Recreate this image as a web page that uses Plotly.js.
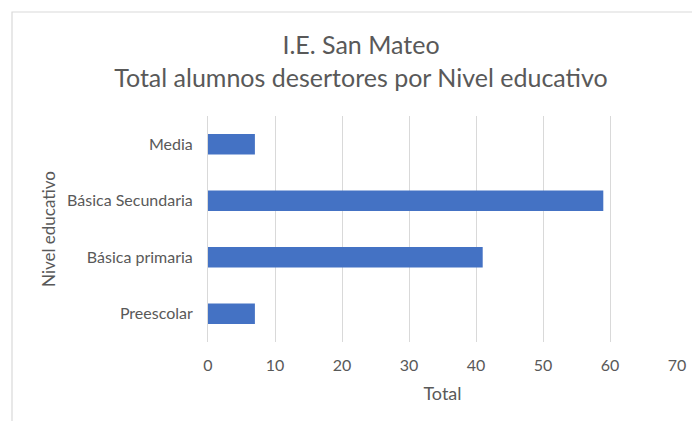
<!DOCTYPE html>
<html>
<head>
<meta charset="utf-8">
<script src="https://cdn.plot.ly/plotly-3.0.1.min.js"></script>
<style>html,body{margin:0;padding:0;background:#fff;}#chart{width:692px;height:421px;}</style>
</head>
<body>
<div id="chart"></div>
<script>
const categories = ['Preescolar', 'Básica primaria', 'Básica Secundaria', 'Media'];
const totals = [7, 41, 59, 7];
const xTicks = [0, 10, 20, 30, 40, 50, 60, 70];
const chartTitle = 'I.E. San Mateo<br>Total alumnos desertores por Nivel educativo';
const xTitle = 'Total';
const yTitle = 'Nivel educativo';

const textColor = '#595959';
const gridColor = '#D9D9D9';
const fontFamily = 'Lato, "Open Sans", sans-serif';

const L = 208, R = 15, T = 116, B = 79, W = 692, H = 421;
const pw = W - L - R, ph = H - T - B;
const fx = v => (v - L) / pw;
const fy = v => (H - B - v) / ph;

const data = [{
  type: 'bar',
  orientation: 'h',
  y: categories,
  x: totals,
  marker: {color: '#4472C4'},
  hoverinfo: 'x+y'
}];

const layout = {
  width: W, height: H,
  margin: {l: L, r: R, t: T, b: B, pad: 0},
  paper_bgcolor: '#ffffff',
  plot_bgcolor: '#ffffff',
  showlegend: false,
  bargap: 0.64,
  font: {family: fontFamily, color: textColor, size: 16},
  title: {
    text: chartTitle,
    font: {family: fontFamily, size: 25, color: textColor},
    x: 361 / W, xanchor: 'center',
    y: 1 - 54 / H, yanchor: 'top', yref: 'container'
  },
  xaxis: {
    range: [0, 70],
    tickvals: xTicks,
    ticktext: xTicks.map(String),
    showgrid: true, gridcolor: gridColor, gridwidth: 1,
    zeroline: false, showline: false,
    ticks: '', ticklabelstandoff: 12,
    tickfont: {size: 16, color: textColor},
    title: {text: xTitle, font: {size: 18, color: textColor}, standoff: 14},
    fixedrange: true
  },
  yaxis: {
    type: 'category',
    categoryorder: 'array', categoryarray: categories,
    showgrid: false, zeroline: false,
    showline: true, linecolor: gridColor, linewidth: 1,
    ticks: '', ticklabelstandoff: 11,
    tickfont: {size: 16, color: textColor},
    title: {text: yTitle, font: {size: 17, color: textColor}, standoff: 7},
    fixedrange: true
  },
  shapes: [{
    type: 'path', xref: 'paper', yref: 'paper',
    path: `M ${fx(12)} ${fy(H + 5)} L ${fx(12)} ${fy(12)} L ${fx(W + 5)} ${fy(12)}`,
    line: {color: gridColor, width: 1.2}
  }]
};

Plotly.newPlot('chart', data, layout, {displayModeBar: false, staticPlot: true});
</script>
</body>
</html>
